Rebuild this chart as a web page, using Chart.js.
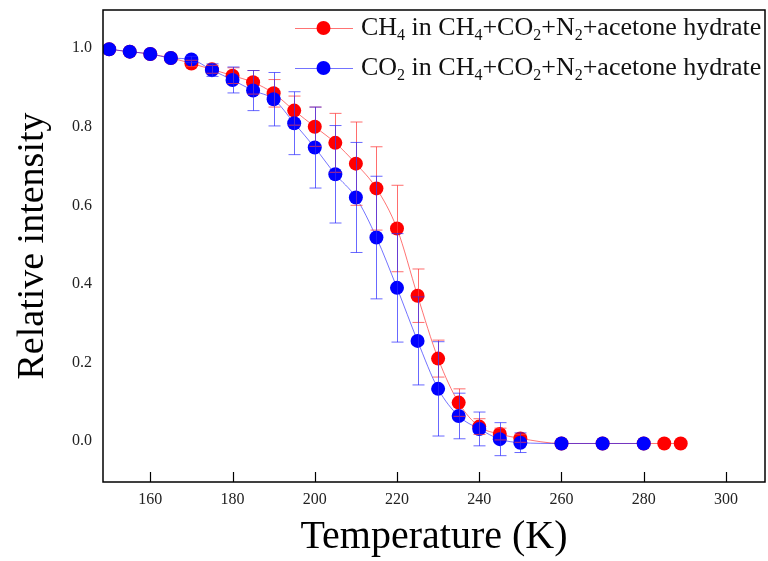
<!DOCTYPE html>
<html>
<head>
<meta charset="utf-8">
<script src="https://cdn.jsdelivr.net/npm/chart.js@4.4.1/dist/chart.umd.min.js"></script>
<style>
  html, body { margin: 0; padding: 0; background: #fff; }
  #wrap { width: 768px; height: 561px; }
</style>
</head>
<body>
<div id="wrap"><canvas id="chart" width="768" height="561"></canvas></div>
<script>
// ========== DATA ==========
const ch4Temps = [150, 155, 160, 165, 170, 175, 180, 185, 190, 195, 200, 205, 210, 215, 220, 225, 230, 235, 240, 245, 250, 260, 270, 280, 285, 289];
const ch4Values = [0.997, 0.991, 0.985, 0.975, 0.961, 0.946, 0.930, 0.913, 0.885, 0.841, 0.800, 0.759, 0.706, 0.643, 0.541, 0.370, 0.210, 0.098, 0.037, 0.018, 0.007, -0.006, -0.006, -0.006, -0.006, -0.006];
const ch4Errors = [0, 0, 0, 0, 0.008, 0.01, 0.02, 0.03, 0.035, 0.037, 0.05, 0.075, 0.106, 0.106, 0.11, 0.068, 0.047, 0.035, 0.02, 0.015, 0.01, 0, 0, 0, 0, 0];

const co2Temps = [150, 155, 160, 165, 170, 175, 180, 185, 190, 195, 200, 205, 210, 215, 220, 225, 230, 235, 240, 245, 250, 260, 270, 280];
const co2Values = [0.997, 0.991, 0.985, 0.975, 0.971, 0.944, 0.919, 0.892, 0.870, 0.809, 0.747, 0.679, 0.620, 0.518, 0.390, 0.255, 0.133, 0.064, 0.031, 0.005, -0.004, -0.006, -0.006, -0.006];
const co2Errors = [0, 0, 0, 0, 0.008, 0.016, 0.033, 0.051, 0.068, 0.080, 0.103, 0.124, 0.140, 0.156, 0.138, 0.112, 0.120, 0.058, 0.043, 0.042, 0.025, 0, 0, 0];

const xTicks = [160, 180, 200, 220, 240, 260, 280, 300];
const yTicks = [0.0, 0.2, 0.4, 0.6, 0.8, 1.0];
const seriesLabels = ["CH_4 in CH_4+CO_2+N_2+acetone hydrate", "CO_2 in CH_4+CO_2+N_2+acetone hydrate"];

// ========== HELPERS ==========
function toPoints(xs, ys) {
  return xs.map((x, i) => ({ x: x, y: ys[i] }));
}

// draw text with _n subscripts
function drawRich(ctx, text, x, y, size) {
  const parts = text.split(/_(\d)/);
  let cx = x;
  parts.forEach((p, i) => {
    const isSub = i % 2 === 1;
    ctx.font = (isSub ? Math.round(size * 0.62) : size) + "px 'Liberation Serif'";
    ctx.fillText(p, cx, isSub ? y + size * 0.3 : y);
    cx += ctx.measureText(p).width;
  });
}

// ========== PLUGINS ==========
const errorBars = {
  id: "errorBars",
  afterDatasetsDraw(chart) {
    const { ctx, scales: { x, y } } = chart;
    const sets = [
      { t: ch4Temps, v: ch4Values, e: ch4Errors, color: "rgba(255,60,60,0.75)" },
      { t: co2Temps, v: co2Values, e: co2Errors, color: "rgba(40,40,255,0.7)" }
    ];
    ctx.save();
    ctx.lineWidth = 1;
    sets.forEach((s) => {
      ctx.strokeStyle = s.color;
      s.t.forEach((t, i) => {
        if (!s.e[i]) return;
        const px = Math.round(x.getPixelForValue(t)) + 0.5;
        const top = y.getPixelForValue(s.v[i] + s.e[i]);
        const bot = y.getPixelForValue(s.v[i] - s.e[i]);
        ctx.beginPath();
        ctx.moveTo(px, top); ctx.lineTo(px, bot);
        ctx.moveTo(px - 6, top); ctx.lineTo(px + 6, top);
        ctx.moveTo(px - 6, bot); ctx.lineTo(px + 6, bot);
        ctx.stroke();
      });
    });
    ctx.restore();
  }
};

const frameAndLegend = {
  id: "frameAndLegend",
  afterDraw(chart) {
    const { ctx, chartArea: a, scales: { x } } = chart;
    ctx.save();
    // frame
    ctx.strokeStyle = "#000";
    ctx.lineWidth = 1.5;
    ctx.strokeRect(a.left, a.top, a.right - a.left, a.bottom - a.top);
    // inward ticks on the bottom axis
    ctx.lineWidth = 1.2;
    xTicks.forEach((t) => {
      const px = Math.round(x.getPixelForValue(t)) + 0.5;
      ctx.beginPath();
      ctx.moveTo(px, a.bottom);
      ctx.lineTo(px, a.bottom - 10);
      ctx.stroke();
    });
    // legend
    const colors = ["#ff0000", "#0000ff"];
    const lineColors = ["rgba(255,0,0,0.55)", "rgba(0,0,255,0.55)"];
    ctx.textBaseline = "middle";
    seriesLabels.forEach((label, i) => {
      const ly = a.top + 18 + i * 40;
      ctx.strokeStyle = lineColors[i];
      ctx.lineWidth = 1;
      ctx.beginPath();
      ctx.moveTo(295, ly + 0.5); ctx.lineTo(353, ly + 0.5);
      ctx.stroke();
      ctx.fillStyle = colors[i];
      ctx.beginPath();
      ctx.arc(323.5, ly, 7, 0, Math.PI * 2);
      ctx.fill();
      ctx.fillStyle = "#111";
      drawRich(ctx, label, 361, ly, 26);
    });
    ctx.restore();
  }
};

// ========== CHART ==========
const serif = "'Liberation Serif', 'Times New Roman', serif";

new Chart(document.getElementById("chart"), {
  type: "line",
  data: {
    datasets: [
      {
        label: "CH4",
        data: toPoints(ch4Temps, ch4Values),
        borderColor: "rgba(255,0,0,0.55)",
        backgroundColor: "#ff0000",
        borderWidth: 1,
        pointRadius: 7,
        pointBorderWidth: 0,
        cubicInterpolationMode: "monotone",
        order: 2
      },
      {
        label: "CO2",
        data: toPoints(co2Temps, co2Values),
        borderColor: "rgba(0,0,255,0.55)",
        backgroundColor: "#0000ff",
        borderWidth: 1,
        pointRadius: 7,
        pointBorderWidth: 0,
        cubicInterpolationMode: "monotone",
        order: 1
      }
    ]
  },
  options: {
    responsive: false,
    animation: false,
    layout: { autoPadding: false, padding: { top: 10, right: 3, left: 0, bottom: 0 } },
    plugins: { legend: { display: false }, tooltip: { enabled: false } },
    scales: {
      x: {
        type: "linear",
        min: 148.5,
        max: 309.5,
        afterBuildTicks: (s) => { s.ticks = xTicks.map((v) => ({ value: v })); },
        afterFit: (s) => { s.height = 79; s.paddingLeft = 0; s.paddingRight = 0; },
        grid: { display: false, drawTicks: false },
        border: { display: false },
        ticks: { color: "#222", font: { family: serif, size: 16 }, padding: 8, maxRotation: 0 },
        title: { display: true, text: "Temperature (K)", color: "#000", font: { family: serif, size: 40 }, padding: { top: 2, bottom: 0 } }
      },
      y: {
        type: "linear",
        min: -0.104,
        max: 1.097,
        afterBuildTicks: (s) => { s.ticks = yTicks.map((v) => ({ value: v })); },
        afterFit: (s) => { s.width = 103; s.paddingTop = 0; s.paddingBottom = 0; },
        grid: { display: false, drawTicks: false },
        border: { display: false },
        ticks: { color: "#222", font: { family: serif, size: 16 }, padding: 11, callback: (v) => v.toFixed(1) },
        title: { display: true, text: "Relative intensity", color: "#000", font: { family: serif, size: 38 }, padding: { top: 10, bottom: 0 } }
      }
    }
  },
  plugins: [errorBars, frameAndLegend]
});
</script>
</body>
</html>
